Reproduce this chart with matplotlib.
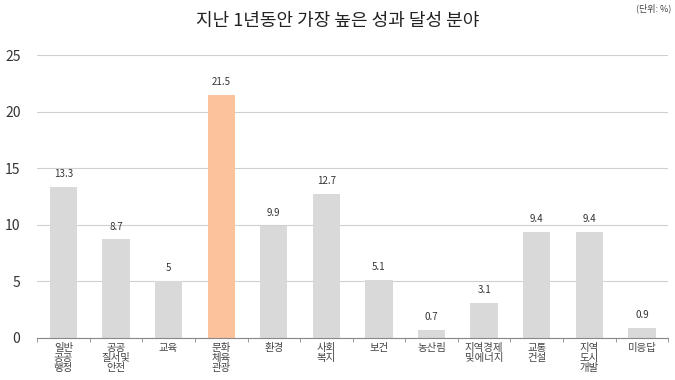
import matplotlib.pyplot as plt

plt.rcParams['font.family'] = ['Noto Sans CJK KR', 'DejaVu Sans']

categories = ['일반\n공공\n행정', '공공\n질서및\n안전', '교육', '문화\n체육\n관광', '환경', '사회\n복지',
              '보건', '농산림', '지역경제\n및에너지', '교통\n건설', '지역\n도시\n개발', '미응답']
values = [13.3, 8.7, 5, 21.5, 9.9, 12.7, 5.1, 0.7, 3.1, 9.4, 9.4, 0.9]
value_labels = ['13.3', '8.7', '5', '21.5', '9.9', '12.7', '5.1', '0.7', '3.1', '9.4', '9.4', '0.9']
highlight = 3

fig = plt.figure(figsize=(6.75, 3.8), dpi=100)
ax = fig.add_axes([0.055, 0.111, 0.935, 0.744])

colors = ['#d9d9d9'] * len(values)
colors[highlight] = '#fac39c'
x = range(len(values))
ax.bar(x, values, width=0.52, color=colors, zorder=2)

for i, v in enumerate(values):
    ax.text(i, v + 0.7, value_labels[i], ha='center', va='bottom', fontsize=7, color='#333333')

ax.set_ylim(0, 25)
ax.set_xlim(-0.5, len(values) - 0.5)
ax.set_yticks([0, 5, 10, 15, 20, 25])
ax.yaxis.grid(True, color='#d0d0d0', linewidth=0.8, zorder=0)
ax.tick_params(axis='y', length=0, labelsize=10, colors='#333333', pad=12)

ax.set_xticks(list(x))
ax.set_xticklabels(categories, fontsize=7.5, color='#444444', linespacing=1.0)
ax.tick_params(axis='x', length=0, pad=4)
ax.set_xticks([i + 0.5 for i in range(-1, len(values))], minor=True)
ax.tick_params(axis='x', which='minor', length=3, direction='out', color='#888888')

for s in ['top', 'right', 'left']:
    ax.spines[s].set_visible(False)
ax.spines['bottom'].set_color('#888888')
ax.spines['bottom'].set_linewidth(0.8)

fig.text(0.5, 0.945, '지난 1년동안 가장 높은 성과 달성 분야', ha='center', va='center',
         fontsize=13, fontweight='medium', color='#222222')
fig.text(0.995, 0.99, '(단위: %)', ha='right', va='top', fontsize=6.5, color='#444444')

fig.savefig('out.png', dpi=100)
